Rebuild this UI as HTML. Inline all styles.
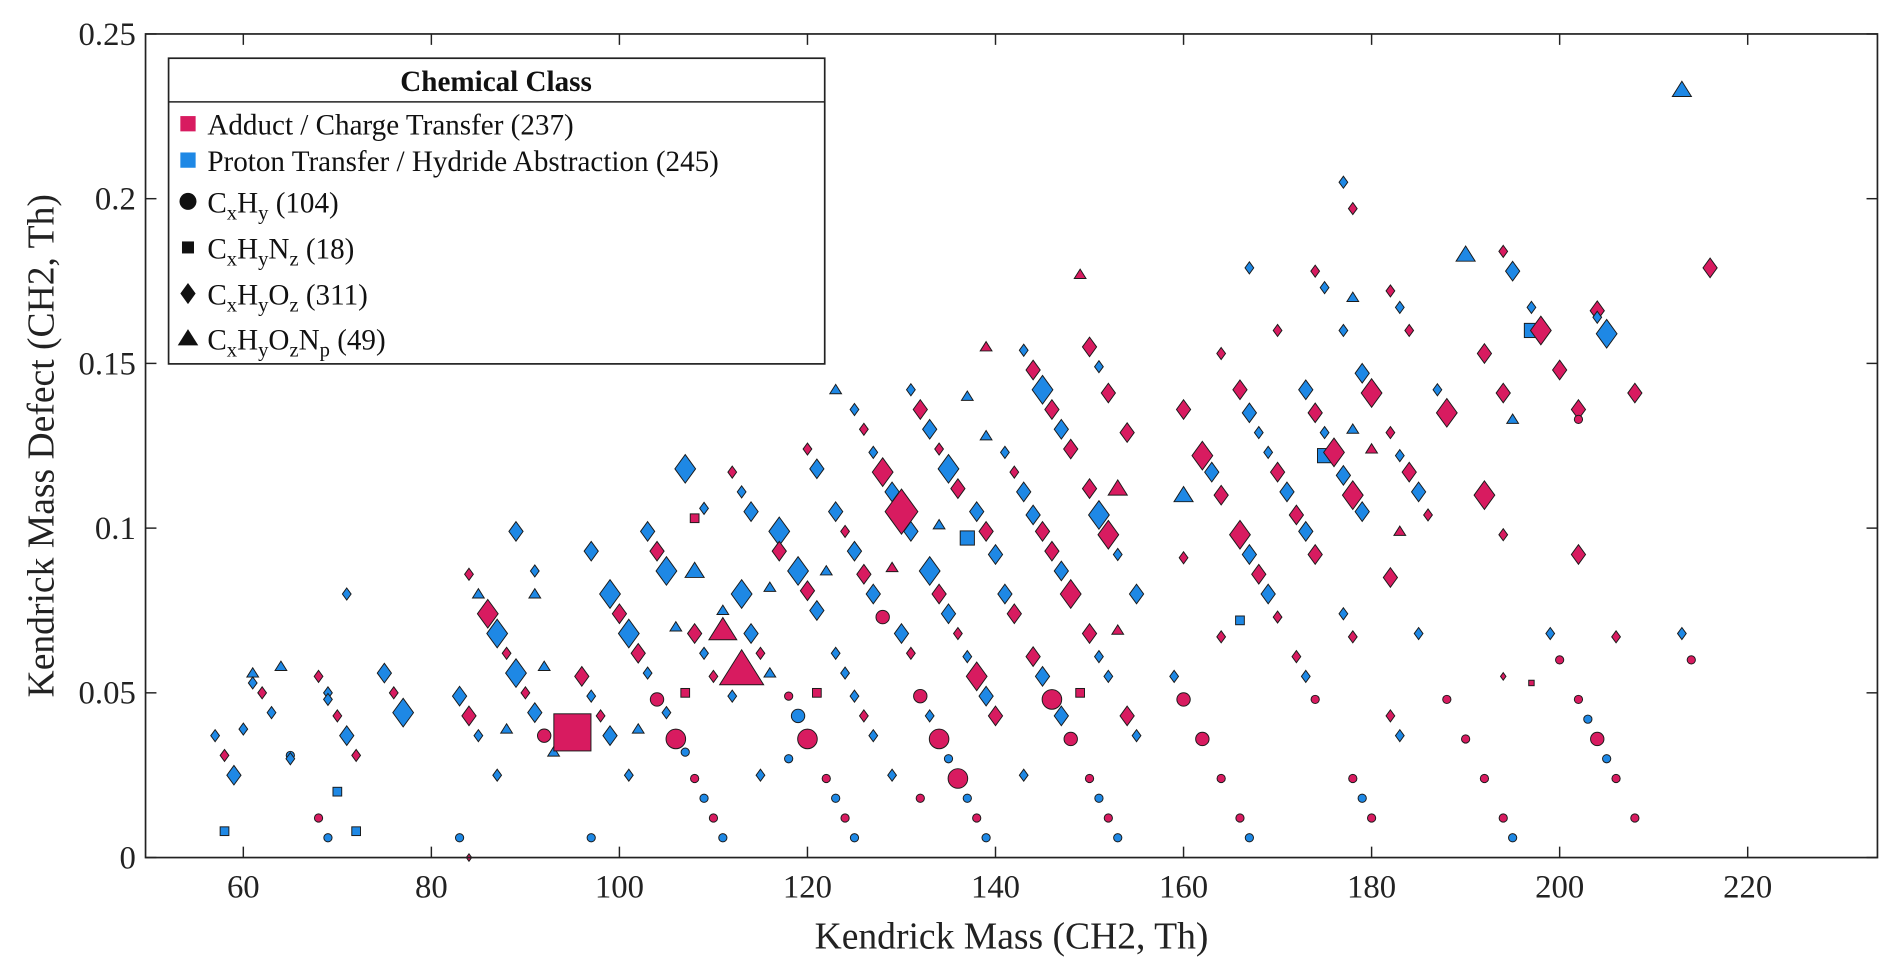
<!DOCTYPE html>
<html><head><meta charset="utf-8">
<style>
html,body{margin:0;padding:0;background:#fff;overflow:hidden;}
svg{display:block;font-family:"Liberation Serif",serif;}
</style></head>
<body>
<svg id="chart" width="1892" height="974" viewBox="0 0 1560 803" preserveAspectRatio="none" xmlns="http://www.w3.org/2000/svg">
<rect width="1560" height="803" fill="#fff"/>
<g id="marks"></g>
<g id="axes"></g>
<g id="legend"></g>
</svg>
<script>
const xTicks=[60,80,100,120,140,160,180,200,220];
const yTicks=[0,0.05,0.1,0.15,0.2,0.25];
const yTickLabels=["0","0.05","0.1","0.15","0.2","0.25"];
const ptX=[
57,58,58,59,60,61,61,62,63,64,
65,65,68,68,69,69,69,70,70,71,
71,72,72,75,76,77,83,83,84,84,
84,85,85,86,87,87,88,88,89,89,
90,91,91,91,92,92,93,95,96,97,
97,97,98,99,99,100,101,101,102,102,
103,103,104,104,105,105,106,106,107,107,
107,108,108,108,108,109,109,109,110,110,
111,111,111,112,112,113,113,113,114,114,
115,115,116,116,117,117,118,118,119,119,
120,120,120,121,121,121,122,122,123,123,
123,123,124,124,124,125,125,125,125,126,
126,126,127,127,127,128,128,129,129,129,
130,130,131,131,131,132,132,132,133,133,
133,134,134,134,134,135,135,135,136,136,
136,137,137,137,137,138,138,138,139,139,
139,139,139,140,140,141,141,142,142,143,
143,143,144,144,144,145,145,145,146,146,
146,147,147,147,148,148,148,149,149,150,
150,150,150,151,151,151,151,152,152,152,
152,153,153,153,153,154,154,155,155,159,
160,160,160,160,162,162,163,164,164,164,
164,166,166,166,166,167,167,167,167,168,
168,169,169,170,170,170,171,172,172,173,
173,173,174,174,174,174,175,175,175,176,
177,177,177,177,178,178,178,178,178,178,
179,179,179,180,180,180,182,182,182,182,
183,183,183,183,184,184,185,185,186,187,
188,188,190,190,192,192,192,194,194,194,
194,194,195,195,195,197,197,197,198,199,
200,200,202,202,202,202,203,204,204,204,
205,205,206,206,208,208,213,213,214,216];
const ptY=[
0.037,0.031,0.008,0.025,0.039,0.056,0.053,0.050,0.044,0.058,
0.031,0.030,0.055,0.012,0.050,0.048,0.006,0.043,0.020,0.037,
0.080,0.031,0.008,0.056,0.050,0.044,0.049,0.006,0.043,0.086,
0.000,0.080,0.037,0.074,0.068,0.025,0.062,0.039,0.056,0.099,
0.050,0.087,0.080,0.044,0.058,0.037,0.032,0.038,0.055,0.093,
0.049,0.006,0.043,0.080,0.037,0.074,0.068,0.025,0.062,0.039,
0.099,0.056,0.093,0.048,0.087,0.044,0.036,0.070,0.118,0.050,
0.032,0.103,0.087,0.068,0.024,0.106,0.062,0.018,0.055,0.012,
0.075,0.069,0.006,0.117,0.049,0.111,0.080,0.057,0.105,0.068,
0.062,0.025,0.082,0.056,0.099,0.093,0.049,0.030,0.087,0.043,
0.081,0.036,0.124,0.118,0.075,0.050,0.024,0.087,0.142,0.105,
0.062,0.018,0.099,0.056,0.012,0.136,0.093,0.049,0.006,0.130,
0.086,0.043,0.123,0.080,0.037,0.117,0.073,0.111,0.088,0.025,
0.105,0.068,0.099,0.142,0.062,0.136,0.049,0.018,0.130,0.087,
0.043,0.124,0.080,0.036,0.101,0.118,0.074,0.030,0.112,0.068,
0.024,0.097,0.140,0.061,0.018,0.105,0.055,0.012,0.155,0.128,
0.099,0.049,0.006,0.092,0.043,0.123,0.080,0.117,0.074,0.154,
0.111,0.025,0.148,0.104,0.061,0.142,0.099,0.055,0.136,0.093,
0.048,0.130,0.087,0.043,0.124,0.080,0.036,0.177,0.050,0.155,
0.112,0.068,0.024,0.149,0.104,0.061,0.018,0.141,0.098,0.055,
0.012,0.112,0.092,0.069,0.006,0.129,0.043,0.080,0.037,0.055,
0.136,0.110,0.091,0.048,0.122,0.036,0.117,0.153,0.110,0.067,
0.024,0.142,0.098,0.072,0.012,0.179,0.135,0.092,0.006,0.129,
0.086,0.080,0.123,0.160,0.117,0.073,0.111,0.104,0.061,0.142,
0.099,0.055,0.178,0.135,0.092,0.048,0.173,0.129,0.122,0.123,
0.205,0.160,0.116,0.074,0.197,0.110,0.067,0.024,0.170,0.130,
0.147,0.105,0.018,0.141,0.124,0.012,0.172,0.129,0.085,0.043,
0.167,0.122,0.099,0.037,0.160,0.117,0.111,0.068,0.104,0.142,
0.135,0.048,0.183,0.036,0.153,0.110,0.024,0.184,0.141,0.098,
0.055,0.012,0.178,0.133,0.006,0.167,0.160,0.053,0.160,0.068,
0.148,0.060,0.136,0.133,0.092,0.048,0.042,0.166,0.164,0.036,
0.159,0.030,0.067,0.024,0.141,0.012,0.233,0.068,0.060,0.179];
// kind = class (a=adduct, p=proton) + shape (c,s,d,t) + size (x,s,m,l,X)
const ptKind=[
"pds","ads","pss","pdm","pds","pts","pds","ads","pds","pts",
"pcs","pds","ads","acs","pds","pds","pcs","ads","pss","pdm",
"pds","ads","pss","pdm","ads","pdl","pdm","pcs","adm","ads",
"adx","pts","pds","adl","pdl","pds","ads","pts","pdl","pdm",
"ads","pds","pts","pdm","pts","acm","pts","asX","adm","pdm",
"pds","pcs","ads","pdl","pdm","adm","pdl","pds","adm","pts",
"pdm","pds","adm","acm","pdl","pds","acl","pts","pdl","ass",
"pcs","ass","ptm","adm","acs","pds","pds","pcs","ads","acs",
"pts","atl","pcs","ads","pds","pds","pdl","atX","pdm","pdm",
"ads","pds","pts","pts","pdl","adm","acs","pcs","pdl","pcm",
"adm","acl","ads","pdm","pdm","ass","acs","pts","pts","pdm",
"pds","pcs","ads","pds","acs","pds","pdm","pds","pcs","ads",
"adm","ads","pds","pdm","pds","adl","acm","pdm","ats","pds",
"adX","pdm","pdm","pds","ads","adm","acm","acs","pdm","pdl",
"pds","ads","adm","acl","pts","pdl","pdm","pcs","adm","ads",
"acl","psm","pts","pds","pcs","pdm","adl","acs","ats","pts",
"adm","pdm","pcs","pdm","adm","pds","pdm","ads","adm","pds",
"pdm","pds","adm","pdm","adm","pdl","adm","pdm","adm","adm",
"acl","pdm","pdm","pdm","adm","adl","acm","ats","ass","adm",
"adm","adm","acs","pds","pdl","pds","pcs","adm","adl","pds",
"acs","atm","pds","ats","pcs","adm","adm","pdm","pds","pds",
"adm","ptm","ads","acm","adl","acm","pdm","ads","adm","ads",
"acs","adm","adl","pss","acs","pds","pdm","pdm","pcs","pds",
"adm","pdm","pds","ads","adm","ads","pdm","adm","ads","pdm",
"pdm","pds","ads","adm","adm","acs","pds","pds","psm","adl",
"pds","pds","pdm","pds","ads","adl","ads","acs","pts","pts",
"pdm","pdm","pcs","adl","ats","acs","ads","ads","adm","ads",
"pds","pds","ats","pds","ads","adm","pdm","pds","ads","pds",
"adl","acs","ptm","acs","adm","adl","acs","ads","adm","ads",
"adx","acs","pdm","pts","pcs","pds","psm","asx","adl","pds",
"adm","acs","adm","acs","adm","acs","pcs","adm","pds","acm",
"pdl","pcs","ads","acs","adm","acs","ptm","pds","acs","adm"];
</script>
<script>
const NS="http://www.w3.org/2000/svg";
const L=120,R=1548,T=28,B=707,XMIN=49.6,XMAX=233.8,YMIN=0,YMAX=0.25;
const xs=v=>L+(v-XMIN)/(XMAX-XMIN)*(R-L);
const ys=v=>B-(v-YMIN)/(YMAX-YMIN)*(B-T);
const RED="#d81b60",BLUE="#1e88e5";
const SZ={x:5,s:8,m:13,l:19,X:30};
function mk(tag,attrs,parent){const e=document.createElementNS(NS,tag);for(const k in attrs)e.setAttribute(k,attrs[k]);parent.appendChild(e);return e;}
function marker(parent,shape,cx,cy,s,fill){
  let e;
  if(shape==="c"){e=mk("circle",{cx:cx,cy:cy,r:s*0.5},parent);}
  else if(shape==="s"){e=mk("rect",{x:cx-s*0.45,y:cy-s*0.45,width:s*0.9,height:s*0.9},parent);}
  else if(shape==="d"){const h=s*0.62,w=s*0.45;e=mk("polygon",{points:`${cx},${cy-h} ${cx+w},${cy} ${cx},${cy+h} ${cx-w},${cy}`},parent);}
  else {const h=s*0.55;e=mk("polygon",{points:`${cx},${cy-h} ${cx+h*1.1},${cy+h*0.75} ${cx-h*1.1},${cy+h*0.75}`},parent);}
  e.setAttribute("fill",fill);e.setAttribute("stroke","#1a1a1a");e.setAttribute("stroke-width","0.8");
  return e;
}
const g=document.getElementById("marks");
const n=Math.min(ptX.length,ptY.length,ptKind.length);
for(let i=0;i<n;i++){
  const k=ptKind[i],sh=k[1];
  let s=SZ[k[2]]||8;
  if(sh==="c") s*=(k[2]==="X"?0.75:0.85);
  if(sh==="s"&&k[2]==="X") s=34;
  const e=marker(g,sh,xs(ptX[i]),ys(ptY[i]),s,k[0]==="a"?RED:BLUE);
  
  
}
const ax=document.getElementById("axes");
const fr=mk("rect",{x:L,y:T,width:R-L,height:B-T,fill:"none",stroke:"#222","stroke-width":"1.4"},ax);


xTicks.forEach(v=>{
  const x=xs(v);
  mk("line",{x1:x,y1:B,x2:x,y2:B-9,stroke:"#222","stroke-width":"1.2"},ax);
  mk("line",{x1:x,y1:T,x2:x,y2:T+9,stroke:"#222","stroke-width":"1.2"},ax);
  const t=mk("text",{x:x,y:B+33,"text-anchor":"middle","font-size":"27",fill:"#222"},ax);
  t.textContent=v;
  
  
});
yTicks.forEach((v,i)=>{
  const y=ys(v);
  mk("line",{x1:L,y1:y,x2:L+9,y2:y,stroke:"#222","stroke-width":"1.2"},ax);
  mk("line",{x1:R,y1:y,x2:R-9,y2:y,stroke:"#222","stroke-width":"1.2"},ax);
  const t=mk("text",{x:L-8,y:y+9,"text-anchor":"end","font-size":"27",fill:"#222"},ax);
  t.textContent=yTickLabels[i];
  
  
});
const xt=mk("text",{x:(L+R)/2,y:782,"text-anchor":"middle","font-size":"31",fill:"#222"},ax);
xt.textContent="Kendrick Mass (CH2, Th)";


const yt=mk("text",{x:0,y:0,"text-anchor":"middle","font-size":"31",fill:"#222",transform:`translate(44,${(T+B)/2}) rotate(-90)`},ax);
yt.textContent="Kendrick Mass Defect (CH2, Th)";


const lg=document.getElementById("legend");
const lb=mk("rect",{x:139,y:48,width:541,height:252,fill:"#fff",stroke:"#222","stroke-width":"1.4"},lg);


mk("line",{x1:139,y1:84,x2:680,y2:84,stroke:"#222","stroke-width":"1.2"},lg);
const lt=mk("text",{x:409,y:75,"text-anchor":"middle","font-size":"24","font-weight":"bold",fill:"#111"},lg);
lt.textContent="Chemical Class";


const entries=[
 {y:103,shape:"s",fill:RED,html:"Adduct / Charge Transfer (237)"},
 {y:133,shape:"s",fill:BLUE,html:"Proton Transfer / Hydride Abstraction (245)"},
 {y:167,shape:"c",fill:"#111",html:'C<tspan font-size="17" dy="6">x</tspan><tspan dy="-6">H</tspan><tspan font-size="17" dy="6">y</tspan><tspan dy="-6"> (104)</tspan>'},
 {y:205,shape:"s",fill:"#111",html:'C<tspan font-size="17" dy="6">x</tspan><tspan dy="-6">H</tspan><tspan font-size="17" dy="6">y</tspan><tspan dy="-6">N</tspan><tspan font-size="17" dy="6">z</tspan><tspan dy="-6"> (18)</tspan>'},
 {y:243,shape:"d",fill:"#111",html:'C<tspan font-size="17" dy="6">x</tspan><tspan dy="-6">H</tspan><tspan font-size="17" dy="6">y</tspan><tspan dy="-6">O</tspan><tspan font-size="17" dy="6">z</tspan><tspan dy="-6"> (311)</tspan>'},
 {y:280,shape:"t",fill:"#111",html:'C<tspan font-size="17" dy="6">x</tspan><tspan dy="-6">H</tspan><tspan font-size="17" dy="6">y</tspan><tspan dy="-6">O</tspan><tspan font-size="17" dy="6">z</tspan><tspan dy="-6">N</tspan><tspan font-size="17" dy="6">p</tspan><tspan dy="-6"> (49)</tspan>'}
];
entries.forEach(en=>{
  const m=marker(lg,en.shape,155,en.y-1,en.shape==="s"&&en.fill!=="#111"?14:(en.shape==="s"?11:14),en.fill);
  m.setAttribute("stroke","none");
  
  
  const t=mk("text",{x:171,y:en.y+8,"font-size":"24",fill:"#111"},lg);
  t.innerHTML=en.html;
  
  
});
</script>
</body></html>
